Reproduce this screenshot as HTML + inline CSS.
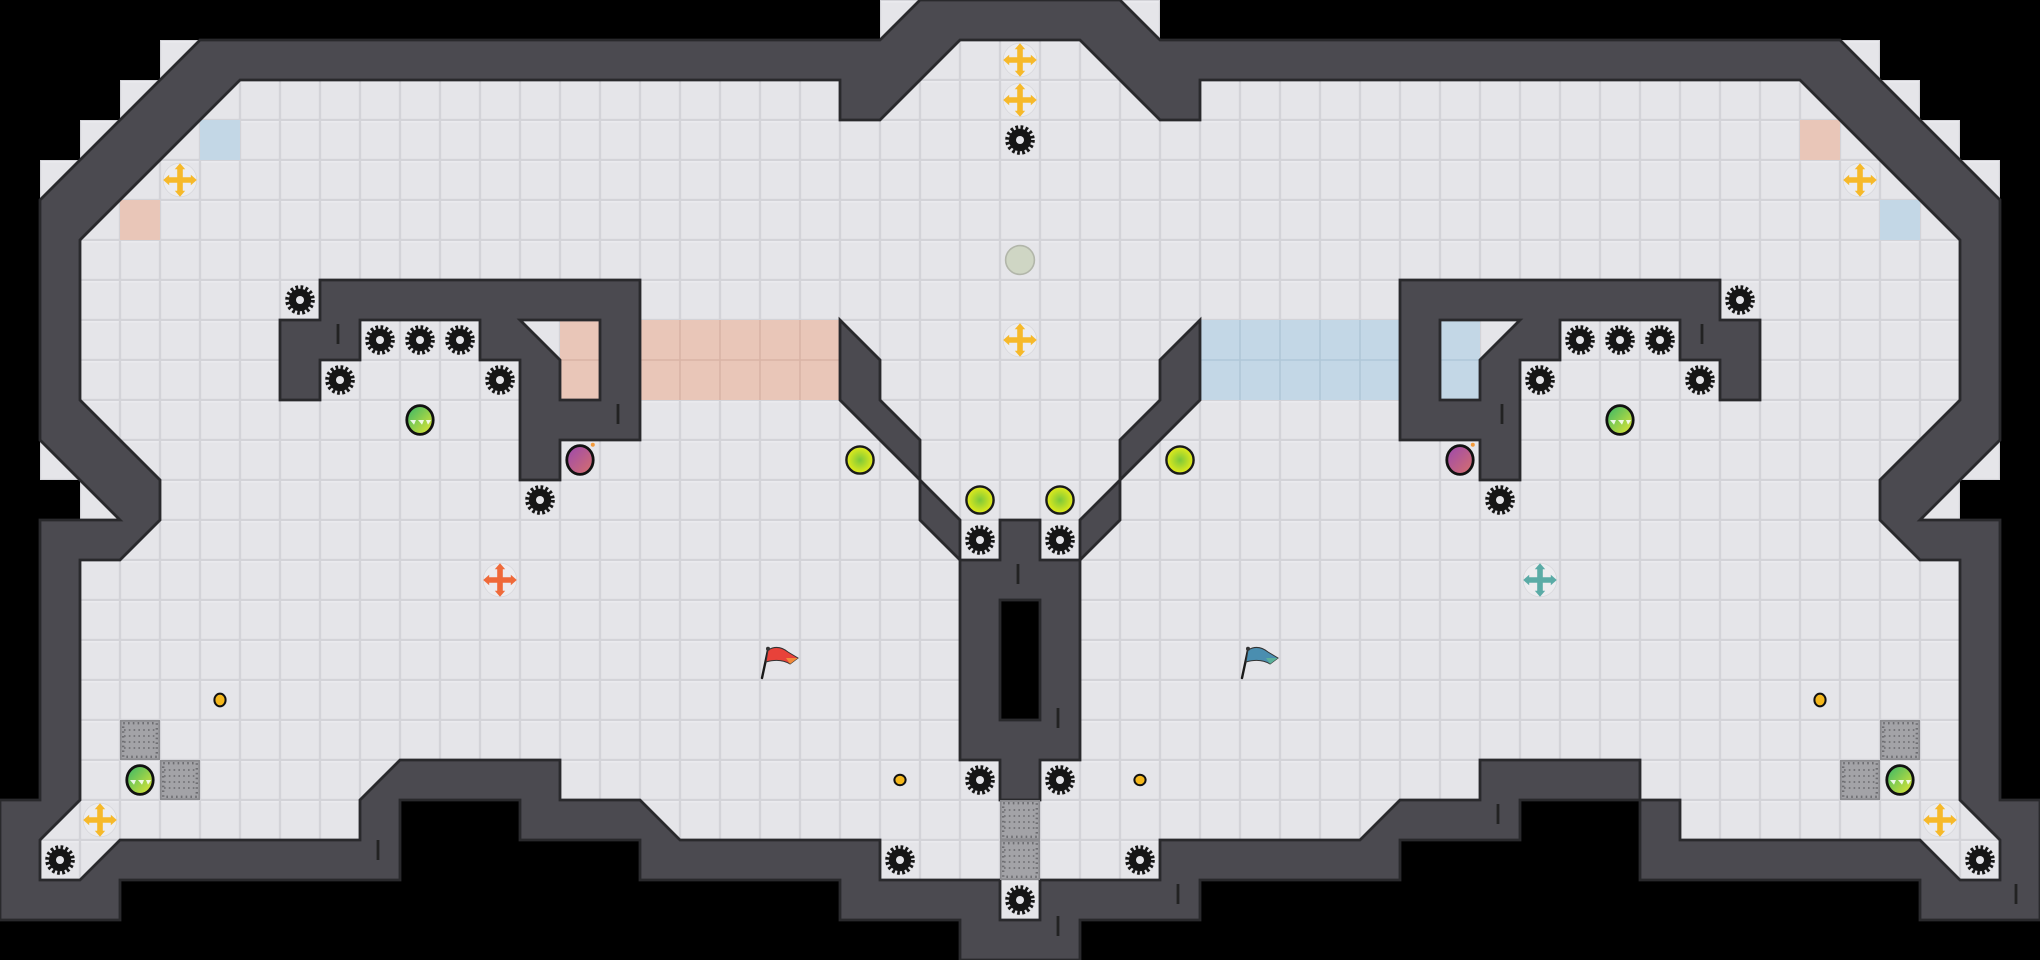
<!DOCTYPE html>
<html><head><meta charset="utf-8"><style>
html,body{margin:0;padding:0;background:#000;width:2040px;height:960px;overflow:hidden}
svg{display:block}
</style></head><body>
<svg width="2040" height="960" viewBox="0 0 51 24" xmlns="http://www.w3.org/2000/svg">
<defs>
<pattern id="fl" patternUnits="userSpaceOnUse" width="1" height="1">
<rect width="1" height="1" fill="#d3d3d8"/>
<rect x="0.03" y="0.03" width="0.94" height="0.94" fill="#e5e5e9"/>
<rect x="0.03" y="0.03" width="0.94" height="0.03" fill="#eeeef1"/>
</pattern>
<radialGradient id="yg" cx="0.5" cy="0.5" r="0.5"><stop offset="0" stop-color="#7cc83a"/><stop offset="1" stop-color="#e6ec1a"/></radialGradient>
<linearGradient id="gg" x1="0" y1="0" x2="1" y2="1"><stop offset="0" stop-color="#33b56a"/><stop offset="1" stop-color="#e8e830"/></linearGradient>
<linearGradient id="pg" x1="0" y1="0" x2="1" y2="1"><stop offset="0" stop-color="#9a48b0"/><stop offset="1" stop-color="#d8706a"/></linearGradient>
<g id="gear">
<circle r="0.28" fill="#161616"/>
<circle r="0.31" fill="none" stroke="#161616" stroke-width="0.12" stroke-dasharray="0.065 0.057"/>
<circle r="0.1" fill="#e5e5e9"/>
</g>
<g id="boost">
<circle r="0.42" fill="#ececef" stroke="#d8d8dc" stroke-width="0.02"/>
<path d="M-0.07,-0.3 L0.07,-0.3 L0.07,-0.07 L0.3,-0.07 L0.3,0.07 L0.07,0.07 L0.07,0.3 L-0.07,0.3 L-0.07,0.07 L-0.3,0.07 L-0.3,-0.07 L-0.07,-0.07Z"/>
<path d="M0,-0.42 L0.13,-0.27 L-0.13,-0.27Z M0,0.42 L0.13,0.27 L-0.13,0.27Z M-0.42,0 L-0.27,0.13 L-0.27,-0.13Z M0.42,0 L0.27,0.13 L0.27,-0.13Z"/>
</g>
<g id="grate">
<rect width="1" height="1" fill="#8a8a8e"/>
<rect x="0.04" y="0.04" width="0.92" height="0.92" fill="#a3a3a7"/>
<rect x="0.08" y="0.08" width="0.84" height="0.84" fill="none" stroke="#6e6e72" stroke-width="0.06" stroke-dasharray="0.04 0.08"/>
<path d="M0.1,0.25H0.9M0.1,0.4H0.9M0.1,0.55H0.9M0.1,0.7H0.9" stroke="#77777b" stroke-width="0.05" stroke-dasharray="0.04 0.08"/>
</g>
</defs>

<g fill="url(#fl)">
<rect x="4" y="1" width="1" height="1"/><rect x="3" y="2" width="1" height="1"/><rect x="2" y="3" width="1" height="1"/><rect x="1" y="4" width="1" height="1"/>
<rect x="22" y="0" width="1" height="1"/><rect x="1" y="11" width="1" height="1"/><rect x="2" y="12" width="1" height="1"/>
<rect x="46" y="1" width="1" height="1"/><rect x="47" y="2" width="1" height="1"/><rect x="48" y="3" width="1" height="1"/><rect x="49" y="4" width="1" height="1"/>
<rect x="28" y="0" width="1" height="1"/><rect x="49" y="11" width="1" height="1"/><rect x="48" y="12" width="1" height="1"/>
</g>

<polygon fill="url(#fl)" points="23,0 22,1 5,1 1,5 1,11 3,13 1,13 1,20 0,20 0,23 3,23 3,22 10,22 10,20 13,20 13,21 16,21 16,22 21,22 21,23 24,23 24,24 27,24 27,23 30,23 30,22 35,22 35,21 38,21 38,20 41,20 41,22 48,22 48,23 51,23 51,20 50,20 50,13 48,13 50,11 50,5 46,1 29,1 28,0"/>

<g fill="#e9c6b8">
<rect x="3" y="5" width="1" height="1"/><rect x="45" y="3" width="1" height="1"/>
<rect x="14" y="8" width="1" height="2"/><rect x="16" y="8" width="5" height="2"/>
</g>
<g fill="#c3d7e6">
<rect x="5" y="3" width="1" height="1"/><rect x="47" y="5" width="1" height="1"/>
<rect x="36" y="8" width="1" height="2"/><rect x="30" y="8" width="5" height="2"/>
</g>
<g stroke="#d9b4a6" stroke-width="0.04" fill="none">
<path d="M17,8V10M18,8V10M19,8V10M20,8V10M16,9H21M14,9H15"/>
</g>
<g stroke="#b0c7d8" stroke-width="0.04" fill="none">
<path d="M31,8V10M32,8V10M33,8V10M34,8V10M30,9H35M36,9H37"/>
</g>

<g fill="#4b4a50" stroke="#29292c" stroke-width="0.07" stroke-linejoin="miter">
<path fill-rule="evenodd" d="M23,0 L22,1 L5,1 L1,5 L1,11 L3,13 L1,13 L1,20 L0,20 L0,23 L3,23 L3,22 L10,22 L10,20 L13,20 L13,21 L16,21 L16,22 L21,22 L21,23 L24,23 L24,24 L27,24 L27,23 L30,23 L30,22 L35,22 L35,21 L38,21 L38,20 L41,20 L41,22 L48,22 L48,23 L51,23 L51,20 L50,20 L50,13 L48,13 L50,11 L50,5 L46,1 L29,1 L28,0 Z
M24,1 L22,3 L21,3 L21,2 L6,2 L2,6 L2,10 L4,12 L4,13 L3,14 L2,14 L2,20 L1,21 L1,22 L2,22 L3,21 L9,21 L9,20 L10,19 L14,19 L14,20 L16,20 L17,21 L22,21 L22,22 L25,22 L25,23 L26,23 L26,22 L29,22 L29,21 L34,21 L35,20 L37,20 L37,19 L41,19 L41,20 L42,20 L42,21 L48,21 L49,22 L50,22 L50,21 L49,20 L49,14 L48,14 L47,13 L47,12 L49,10 L49,6 L45,2 L30,2 L30,3 L29,3 L27,1 Z"/>
<path fill-rule="evenodd" d="M8,7 L16,7 L16,11 L14,11 L14,12 L13,12 L13,9 L12,9 L12,8 L9,8 L9,9 L8,9 L8,10 L7,10 L7,8 L8,8 Z M13,8 L15,8 L15,10 L14,10 L14,9 Z"/>
<path fill-rule="evenodd" d="M43,7 L35,7 L35,11 L37,11 L37,12 L38,12 L38,9 L39,9 L39,8 L42,8 L42,9 L43,9 L43,10 L44,10 L44,8 L43,8 Z M38,8 L36,8 L36,10 L37,10 L37,9 Z"/>
<path d="M21,8 L22,9 L22,10 L23,11 L23,12 L24,13 L24,14 L23,13 L23,12 L21,10 Z"/>
<path d="M30,8 L29,9 L29,10 L28,11 L28,12 L27,13 L27,14 L28,13 L28,12 L30,10 Z"/>
<path d="M25,13 L26,13 L26,14 L27,14 L27,19 L26,19 L26,20 L25,20 L25,19 L24,19 L24,14 L25,14 Z"/>
</g>
<rect x="25" y="15" width="1" height="3" fill="#000" stroke="#29292c" stroke-width="0.07"/>

<g stroke="#222" stroke-width="0.07">
<path d="M8.45,8.1V8.6M15.45,10.1V10.6M25.45,14.1V14.6M26.45,17.7V18.2M9.45,21.0V21.5M37.55,10.1V10.6M42.55,8.1V8.6M37.45,20.1V20.6M26.45,22.9V23.4M29.45,22.1V22.6M50.4,22.1V22.6"/>
</g>

<use href="#grate" x="3" y="18"/><use href="#grate" x="4" y="19"/>
<use href="#grate" x="25" y="20"/><use href="#grate" x="25" y="21"/>
<use href="#grate" x="47" y="18"/><use href="#grate" x="46" y="19"/>

<g>
<use href="#gear" x="7.5" y="7.5"/><use href="#gear" x="9.5" y="8.5"/><use href="#gear" x="10.5" y="8.5"/><use href="#gear" x="11.5" y="8.5"/>
<use href="#gear" x="8.5" y="9.5"/><use href="#gear" x="12.5" y="9.5"/><use href="#gear" x="13.5" y="12.5"/><use href="#gear" x="1.5" y="21.5"/>
<use href="#gear" x="24.5" y="13.5"/><use href="#gear" x="24.5" y="19.5"/><use href="#gear" x="22.5" y="21.5"/>
<use href="#gear" x="25.5" y="3.5"/><use href="#gear" x="25.5" y="22.5"/>
<use href="#gear" x="43.5" y="7.5"/><use href="#gear" x="41.5" y="8.5"/><use href="#gear" x="40.5" y="8.5"/><use href="#gear" x="39.5" y="8.5"/>
<use href="#gear" x="42.5" y="9.5"/><use href="#gear" x="38.5" y="9.5"/><use href="#gear" x="37.5" y="12.5"/><use href="#gear" x="49.5" y="21.5"/>
<use href="#gear" x="26.5" y="13.5"/><use href="#gear" x="26.5" y="19.5"/><use href="#gear" x="28.5" y="21.5"/>
</g>

<g fill="#f6b92a">
<use href="#boost" x="4.5" y="4.5"/><use href="#boost" x="2.5" y="20.5"/>
<use href="#boost" x="25.5" y="1.5"/><use href="#boost" x="25.5" y="2.5"/><use href="#boost" x="25.5" y="8.5"/>
<use href="#boost" x="46.5" y="4.5"/><use href="#boost" x="48.5" y="20.5"/>
</g>
<g fill="#ef6a3a"><use href="#boost" x="12.5" y="14.5"/></g>
<g fill="#5aaba6"><use href="#boost" x="38.5" y="14.5"/></g>

<g fill="url(#yg)" stroke="#1a1a1a" stroke-width="0.06">
<circle cx="21.5" cy="11.5" r="0.34"/><circle cx="24.5" cy="12.5" r="0.34"/>
<circle cx="26.5" cy="12.5" r="0.34"/><circle cx="29.5" cy="11.5" r="0.34"/>
</g>
<g stroke="#111" stroke-width="0.07">
<ellipse cx="10.5" cy="10.5" rx="0.33" ry="0.36" fill="url(#gg)"/>
<ellipse cx="3.5" cy="19.5" rx="0.33" ry="0.36" fill="url(#gg)"/>
<ellipse cx="40.5" cy="10.5" rx="0.33" ry="0.36" fill="url(#gg)"/>
<ellipse cx="47.5" cy="19.5" rx="0.33" ry="0.36" fill="url(#gg)"/>
<ellipse cx="14.5" cy="11.5" rx="0.33" ry="0.36" fill="url(#pg)"/>
<ellipse cx="36.5" cy="11.5" rx="0.33" ry="0.36" fill="url(#pg)"/>
</g>
<g fill="#fff" opacity="0.85">
<path d="M10.25,10.5 l0.1,0.12 l0.05,-0.12Z M10.45,10.5 l0.1,0.12 l0.05,-0.12Z M10.65,10.5 l0.05,0.12 l0.08,-0.12Z"/>
<path d="M3.25,19.5 l0.1,0.12 l0.05,-0.12Z M3.45,19.5 l0.1,0.12 l0.05,-0.12Z M3.65,19.5 l0.05,0.12 l0.08,-0.12Z"/>
<path d="M40.25,10.5 l0.1,0.12 l0.05,-0.12Z M40.45,10.5 l0.1,0.12 l0.05,-0.12Z M40.65,10.5 l0.05,0.12 l0.08,-0.12Z"/>
<path d="M47.25,19.5 l0.1,0.12 l0.05,-0.12Z M47.45,19.5 l0.1,0.12 l0.05,-0.12Z M47.65,19.5 l0.05,0.12 l0.08,-0.12Z"/>
</g>
<circle cx="14.82" cy="11.12" r="0.05" fill="#f39a3a"/><circle cx="36.82" cy="11.12" r="0.05" fill="#f39a3a"/>

<g fill="#f5b81c" stroke="#111" stroke-width="0.05">
<ellipse cx="5.5" cy="17.5" rx="0.14" ry="0.16"/><ellipse cx="22.5" cy="19.5" rx="0.14" ry="0.13"/>
<ellipse cx="28.5" cy="19.5" rx="0.14" ry="0.13"/><ellipse cx="45.5" cy="17.5" rx="0.14" ry="0.16"/>
</g>

<circle cx="25.5" cy="6.5" r="0.36" fill="#cfd6c4" stroke="#b2b6aa" stroke-width="0.04"/>

<g stroke="#1a1a1a" stroke-width="0.06" stroke-linecap="round">
<path d="M19.2,16.25 L19.05,16.95" fill="none"/>
<path d="M31.2,16.25 L31.05,16.95" fill="none"/>
</g>
<path d="M19.2,16.25 Q19.45,16.1 19.7,16.3 L19.95,16.45 L19.75,16.6 Q19.5,16.45 19.15,16.55Z" fill="#e8423a" stroke="#333" stroke-width="0.025"/>
<path d="M19.65,16.45 L19.95,16.45 L19.75,16.6Z" fill="#f08a3a"/>
<circle cx="19.2" cy="16.22" r="0.05" fill="#333"/>
<path d="M31.2,16.25 Q31.45,16.1 31.7,16.3 L31.95,16.45 L31.75,16.6 Q31.5,16.45 31.15,16.55Z" fill="#4a8eb0" stroke="#333" stroke-width="0.025"/>
<path d="M31.65,16.45 L31.95,16.45 L31.75,16.6Z" fill="#5ab09a"/>
<circle cx="31.2" cy="16.22" r="0.05" fill="#333"/>
</svg>
</body></html>
